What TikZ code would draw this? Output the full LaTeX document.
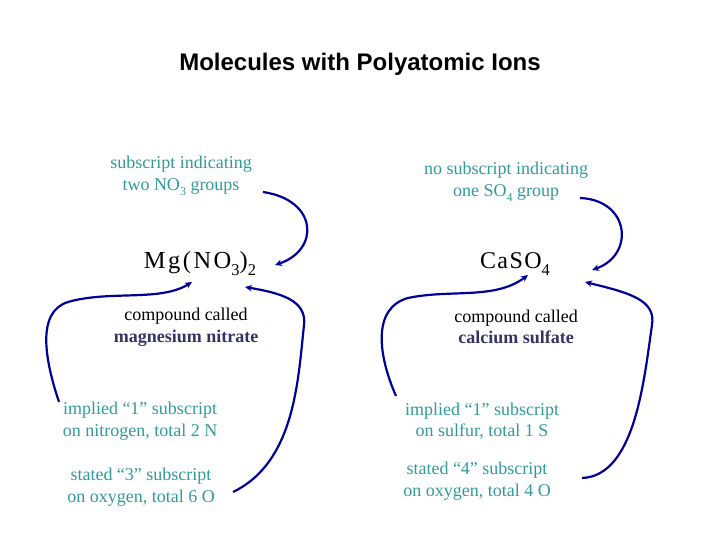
\documentclass[tikz,border=0pt]{standalone}
\usepackage{fontspec}
\setmainfont{Liberation Serif}
\newfontfamily\titlefont{Liberation Sans}
\newfontfamily\formfont[LetterSpace=6]{Liberation Serif}
\newfontfamily\formfontw[LetterSpace=10]{Liberation Serif}
\usetikzlibrary{arrows.meta}
\definecolor{teal1}{HTML}{339999}
\definecolor{navy1}{HTML}{333366}
\definecolor{arr}{HTML}{000099}
\newcommand{\dns}[1]{\raisebox{-0.28em}{\fontsize{12bp}{12bp}\selectfont #1}}
\newcommand{\dnl}[1]{\raisebox{-0.28em}{\fontsize{16.5bp}{16.5bp}\selectfont #1}}
\tikzset{
  lbl/.style={align=center,inner sep=0pt,text=teal1,font=\fontsize{18bp}{21.5bp}\selectfont},
  cmp/.style={align=center,inner sep=0pt,font=\fontsize{18bp}{21.5bp}\selectfont},
  form/.style={inner sep=0pt,font=\formfont\fontsize{24bp}{28bp}\selectfont},
  conn/.style={draw=arr,line width=2.2bp,-{Stealth[length=7bp,width=6.5bp]}}
}
\begin{document}
\begin{tikzpicture}[x=1bp,y=-1bp]
\useasboundingbox (0,0) rectangle (720,540);
\node[inner sep=0pt,font=\titlefont\bfseries\fontsize{24bp}{28bp}\selectfont] (title) at (360,64) {Molecules with Polyatomic Ions};
\node[lbl] (subL) at (181,176) {subscript indicating\\two NO\dns{3} groups};
\node[lbl] (subR) at (506,182) {no subscript indicating\\one SO\dns{4} group};
\node[form,font=\formfontw\fontsize{24.5bp}{28bp}\selectfont] (mg) at (200,264) {Mg(NO\dnl{3})\dnl{2}};
\node[form] (ca) at (515,264) {CaSO\dnl{4}};
\node[cmp] (cmpL) at (186,327) {compound called\\\textcolor{navy1}{\bfseries magnesium nitrate}};
\node[cmp] (cmpR) at (516,327) {compound called\\\textcolor{navy1}{\bfseries calcium sulfate}};
\node[lbl] (impL) at (140,421) {implied “1” subscript\\on nitrogen, total 2 N};
\node[lbl] (stL) at (141,487) {stated “3” subscript\\on oxygen, total 6 O};
\node[lbl] (impR) at (482,421) {implied “1” subscript\\on sulfur, total 1 S};
\node[lbl] (stR) at (477,481) {stated “4” subscript\\on oxygen, total 4 O};
% connector end points
\coordinate (a1s) at (263,192); \coordinate (a1e) at (275,265);
\coordinate (a2s) at (59,402);  \coordinate (a2e) at (192,282);
\coordinate (a3s) at (233,492); \coordinate (a3e) at (245,287);
\coordinate (a4s) at (580,198); \coordinate (a4e) at (592,270);
\coordinate (a5s) at (396,396); \coordinate (a5e) at (528,275);
\coordinate (a6s) at (582,478); \coordinate (a6e) at (585,282);
\draw[conn] (a1s) .. controls (318,200) and (320,250) .. (a1e);
\draw[conn] (a2s) .. controls (45,360) and (36,312) .. (68,302) .. controls (110,290) and (160,302) .. (a2e);
\draw[conn] (a3s) .. controls (295,462) and (298,380) .. (304,325) .. controls (307,300) and (280,293) .. (a3e);
\draw[conn] (a4s) .. controls (630,200) and (635,255) .. (a4e);
\draw[conn] (a5s) .. controls (378,355) and (372,308) .. (408,298) .. controls (450,289) and (495,300) .. (a5e);
\draw[conn] (a6s) .. controls (635,476) and (644,380) .. (652,325) .. controls (656,300) and (630,293) .. (a6e);
\end{tikzpicture}
\end{document}
